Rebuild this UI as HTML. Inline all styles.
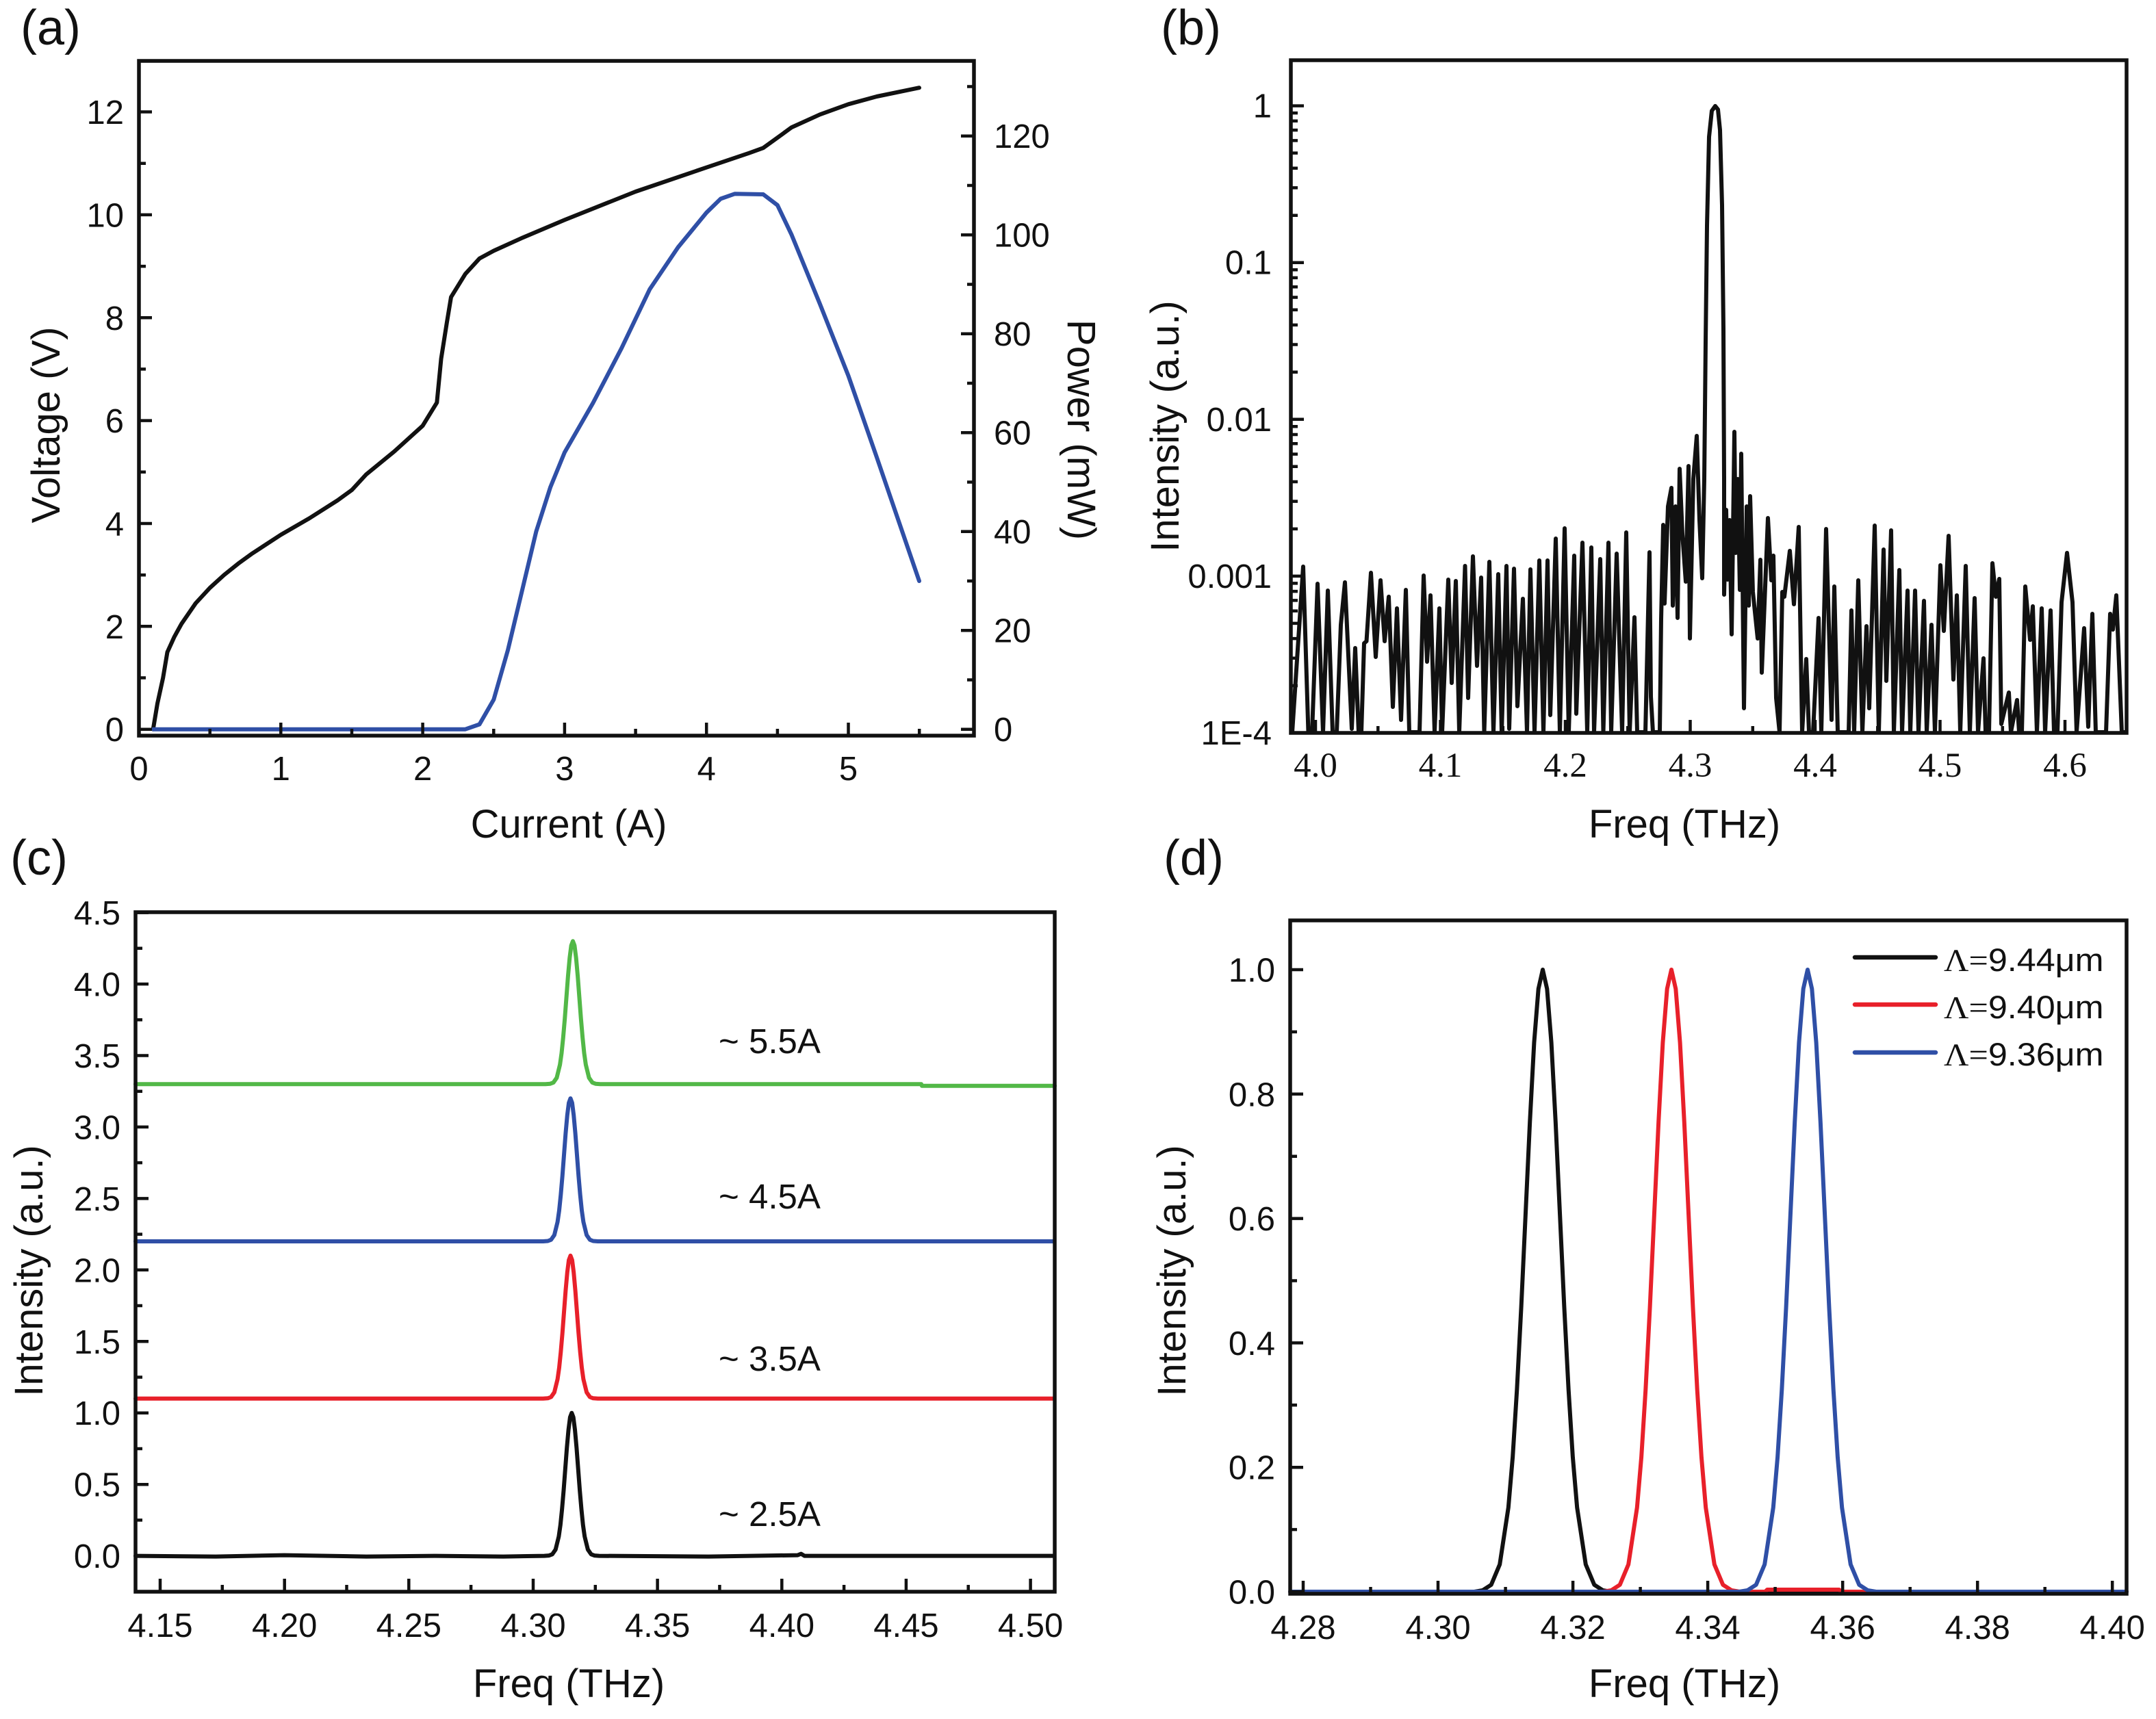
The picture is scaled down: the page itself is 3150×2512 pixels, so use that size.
<!DOCTYPE html>
<html><head><meta charset="utf-8"><title>Figure</title>
<style>
html,body{margin:0;padding:0;background:#fff;}
svg{display:block;}
text{font-family:"Liberation Sans",Arial,sans-serif;fill:#111;}
.tk{font-size:49px;}
.sf{font-size:51px;}
.sf text{font-family:"Liberation Serif","Times New Roman",serif;}
.ax{font-size:58px;}
.pl{font-size:72px;}
.an{font-size:51px;}
.box{fill:none;stroke:#111;stroke-width:5.5;}
.tick{fill:none;stroke:#111;stroke-width:4.5;}
.cv{fill:none;stroke-width:6;stroke-linejoin:round;stroke-linecap:round;}
</style></head>
<body>
<svg width="3150" height="2512" viewBox="0 0 3150 2512" xmlns="http://www.w3.org/2000/svg">
<defs>
<clipPath id="cb"><rect x="1886" y="88" width="1221" height="983"/></clipPath>
</defs>
<rect width="3150" height="2512" fill="#fff"/>

<!-- ================= (a) ================= -->
<text class="pl" x="30" y="65">(a)</text>
<path class="cv" stroke="#111" d="M223.7,1065.7 L230,1028 L238.2,990.5 L244.5,953 L254.8,930.4 L265.2,911.6 L285.9,881.5 L306.7,859 L327.4,840.2 L348.1,823.6 L368.8,808.6 L410.3,781.5 L451.8,757.5 L493.2,731.2 L514,716.1 L534.7,693.6 L576.1,659.7 L617.6,622.1 L638.3,588.3 L644.5,524.4 L652.8,471.8 L659,434.2 L679.8,400.4 L700.5,377.8 L721.3,366.5 L762.7,347.7 L824.9,321.4 L928.6,280 L1032.2,244.7 L1094.4,223.7 L1115.1,216.2 L1135.9,201.2 L1156.6,186.1 L1198,167.3 L1239.5,152.3 L1281,141 L1343,128.2"/>
<path class="cv" stroke="#2f4fa6" d="M223.7,1065.7 L679.8,1065.7 L700.5,1058.5 L721.3,1022.4 L742,950.1 L762.7,863.4 L783.4,776.7 L804.2,711.7 L824.9,661.1 L866.4,588.9 L907.8,509.4 L949.3,422.7 L990.7,361.3 L1032.2,310.7 L1052.9,290.5 L1073.7,283.2 L1115.1,284 L1135.9,299.8 L1156.6,343.2 L1198,444.4 L1239.5,549.1 L1281,668.3 L1322.4,789 L1343,849"/>
<rect class="box" x="203" y="89" width="1220" height="986"/>
<path class="tick" d="M203,1065.7h19M203,915.3h19M203,765h19M203,614.6h19M203,464.3h19M203,313.9h19M203,163.5h19
M203,990.5h10M203,840.2h10M203,689.8h10M203,539.4h10M203,389.1h10M203,238.7h10
M1423,1065.7h-19M1423,921.2h-19M1423,776.7h-19M1423,632.2h-19M1423,487.7h-19M1423,343.2h-19M1423,198.7h-19
M1423,993.5h-10M1423,849h-10M1423,704.5h-10M1423,560h-10M1423,415.5h-10M1423,271h-10M1423,126.5h-10
M203,1075v-19M410.3,1075v-19M617.6,1075v-19M824.9,1075v-19M1032.2,1075v-19M1239.5,1075v-19
M306.7,1075v-10M514,1075v-10M721.3,1075v-10M928.6,1075v-10M1135.9,1075v-10M1343.2,1075v-10"/>
<g class="tk" text-anchor="end">
<text x="181" y="1083">0</text><text x="181" y="933">2</text><text x="181" y="782.5">4</text><text x="181" y="632">6</text><text x="181" y="482">8</text><text x="181" y="331.5">10</text><text x="181" y="181">12</text>
</g>
<g class="tk" text-anchor="start">
<text x="1452" y="1083">0</text><text x="1452" y="938.7">20</text><text x="1452" y="794">40</text><text x="1452" y="649.7">60</text><text x="1452" y="505">80</text><text x="1452" y="360.7">100</text><text x="1452" y="216">120</text>
</g>
<g class="tk" text-anchor="middle">
<text x="203" y="1140">0</text><text x="410.3" y="1140">1</text><text x="617.6" y="1140">2</text><text x="824.9" y="1140">3</text><text x="1032.2" y="1140">4</text><text x="1239.5" y="1140">5</text>
</g>
<text class="ax" x="831" y="1224" text-anchor="middle">Current (A)</text>
<text class="ax" transform="translate(87,621) rotate(-90)" text-anchor="middle">Voltage (V)</text>
<text class="ax" transform="translate(1560,628) rotate(90)" text-anchor="middle">Power (mW)</text>

<!-- ================= (b) ================= -->
<text class="pl" x="1696" y="65">(b)</text>
<g clip-path="url(#cb)">
<path class="cv" stroke="#111" stroke-width="5" d="M1886,1070 L1888,1070 L1904,828 L1911.5,1070 L1917,1070 L1925,853 L1933,1070 L1940,863 L1947,1070 L1953,1070 L1959,913 L1965,851 L1975,1065 L1980,947 L1985,1070 L1989,1070 L1993,940 L1996.5,937 L2003,837 L2010,960 L2017,848 L2023,937 L2029,872 L2035,1033 L2041,889 L2047,1052 L2054,862 L2059,1070 L2074,1070 L2080,841 L2085,967 L2090,870 L2096,1070 L2103,889 L2107,1070 L2116,847 L2121,998 L2127,849 L2132,1070 L2140.5,827 L2145,1020 L2152,813 L2158,973 L2164,844 L2168.5,1070 L2176,821 L2182,1070 L2189,839 L2194,1070 L2201,827 L2205,1065 L2212,831 L2217,1032 L2225,875 L2231,1070 L2236,832 L2242,1070 L2249,819 L2255,1070 L2261,819 L2265,1045 L2273,787 L2279,1070 L2286,772 L2292,1070 L2300,812 L2303,1043 L2312,793 L2319,1070 L2325,800 L2329,1070 L2338,817 L2342.5,1070 L2350,793 L2354,1070 L2362,809 L2370,1070 L2376,778 L2381,1070 L2388,902 L2392,1070 L2404,1070 L2410,807 L2412,1018 L2415,1070 L2425,1070 L2427,905 L2430,767 L2432,882 L2437,740 L2442,713 L2444,885 L2448,740 L2451,903 L2454,685 L2458,780 L2463,850 L2467,681 L2469,933 L2474,700 L2479,637 L2483,760 L2487,845 L2490,700 L2492,500 L2494,330 L2497,200 L2501,162 L2506,155 L2510,160 L2513,190 L2516,300 L2518,480 L2519,700 L2519,869 L2522,745 L2524,847 L2527,760 L2530,927 L2534,631 L2536,808 L2539,700 L2542,862 L2544,663 L2548,1035 L2552,740 L2555,885 L2557,725 L2561,865 L2568,933 L2572,818 L2574,983 L2583,757 L2588,848 L2591,812 L2595,1020 L2600,1070 L2604,865 L2607,872 L2615,805 L2621,883 L2628,770 L2633,1070 L2639,963 L2643,1070 L2649,1070 L2657,903 L2661,1070 L2668,773 L2676,1052 L2680,857 L2685,1070 L2701,1070 L2705,892 L2709,1070 L2715,848 L2721,1070 L2727,915 L2731,1035 L2739,768 L2745,1070 L2752,803 L2756,995 L2763,775 L2767,1070 L2775,833 L2779,1070 L2787,863 L2791,1070 L2798,863 L2803,1070 L2811,878 L2815,1070 L2822,913 L2827,1070 L2835,826 L2840,922 L2847,783 L2854,993 L2859,870 L2864,1070 L2872,827 L2878,1070 L2885,874 L2890,1070 L2898,962 L2901,1070 L2906,1070 L2911,823 L2916,872 L2921,846 L2924,1058 L2935,1012 L2938,1070 L2947,1023 L2950,1070 L2954,1070 L2959,857 L2966,935 L2970,886 L2976,1070 L2983,889 L2988,1070 L2996,892 L3001,1070 L3006,1070 L3012,880 L3020,808 L3028,880 L3034,1070 L3045,918 L3051,1062 L3057,897 L3062,1070 L3077,1070 L3083,897 L3087,920 L3092,870 L3100,1070 L3107,1070"/>
</g>
<rect class="box" x="1886" y="88" width="1221" height="983"/>
<path class="tick" d="M1886,841.9h19M1886,612.8h19M1886,383.7h19M1886,154.6h19
M1886,1002h10M1886,961.7h10M1886,933.1h10M1886,910.9h10M1886,892.7h10M1886,877.4h10M1886,864.1h10M1886,852.4h10
M1886,772.9h10M1886,732.6h10M1886,704h10M1886,681.8h10M1886,663.6h10M1886,648.3h10M1886,635h10M1886,623.3h10
M1886,543.8h10M1886,503.5h10M1886,474.9h10M1886,452.7h10M1886,434.5h10M1886,419.2h10M1886,405.9h10M1886,394.2h10
M1886,314.7h10M1886,274.4h10M1886,245.8h10M1886,223.6h10M1886,205.4h10M1886,190.1h10M1886,176.8h10M1886,165.1h10
M1922,1071v-19M2104.5,1071v-19M2287,1071v-19M2469.5,1071v-19M2652,1071v-19M2834.5,1071v-19M3017,1071v-19
M2013.3,1071v-10M2195.8,1071v-10M2378.3,1071v-10M2560.8,1071v-10M2743.3,1071v-10M2925.8,1071v-10"/>
<g class="tk" text-anchor="end">
<text x="1858" y="171.6">1</text><text x="1858" y="400.7">0.1</text><text x="1858" y="629.8">0.01</text><text x="1858" y="858.9">0.001</text><text x="1858" y="1088">1E-4</text>
</g>
<g class="sf" text-anchor="middle">
<text x="1922" y="1135">4.0</text><text x="2104.5" y="1135">4.1</text><text x="2287" y="1135">4.2</text><text x="2469.5" y="1135">4.3</text><text x="2652" y="1135">4.4</text><text x="2834.5" y="1135">4.5</text><text x="3017" y="1135">4.6</text>
</g>
<text class="ax" x="2461" y="1224" text-anchor="middle">Freq (THz)</text>
<text class="ax" transform="translate(1722,623) rotate(-90)" text-anchor="middle">Intensity (a.u.)</text>

<!-- ================= (c) ================= -->
<text class="pl" x="15" y="1278">(c)</text>
<g transform="translate(835.3,2273.6)"><path class="cv" stroke="#111" d="M-637.3,0 L-520,1 L-420,-1 L-300,1 L-200,0 L-100,1 L-40,0 L-33.1,-0.5 L-28.4,-2.3 L-23.6,-9.2 L-18.9,-28.3 L-16.5,-45.2 L-14.2,-67.8 L-11.8,-95.6 L-9.45,-126.7 L-7.1,-157.7 L-4.7,-184.4 L-2.4,-202.5 L0,-208.9 L2.4,-202.5 L4.7,-184.4 L7.1,-157.7 L9.45,-126.7 L11.8,-95.6 L14.2,-67.8 L16.5,-45.2 L18.9,-28.3 L23.6,-9.2 L28.4,-2.3 L33.1,-0.5 L40,0 L200,1 L330,-1 L335,-3 L340,0 L500,0 L705,0"/></g>
<g transform="translate(833.5,2043.8)"><path class="cv" stroke="#e8202a" d="M-635.5,0 L-40,0 L-33.1,-0.5 L-28.4,-2.3 L-23.6,-9.2 L-18.9,-28.3 L-16.5,-45.2 L-14.2,-67.8 L-11.8,-95.6 L-9.45,-126.7 L-7.1,-157.7 L-4.7,-184.4 L-2.4,-202.5 L0,-208.9 L2.4,-202.5 L4.7,-184.4 L7.1,-157.7 L9.45,-126.7 L11.8,-95.6 L14.2,-67.8 L16.5,-45.2 L18.9,-28.3 L23.6,-9.2 L28.4,-2.3 L33.1,-0.5 L40,0 L707,0"/></g>
<g transform="translate(833.5,1814)"><path class="cv" stroke="#2f4fa6" d="M-635.5,0 L-40,0 L-33.1,-0.5 L-28.4,-2.3 L-23.6,-9.2 L-18.9,-28.3 L-16.5,-45.2 L-14.2,-67.8 L-11.8,-95.6 L-9.45,-126.7 L-7.1,-157.7 L-4.7,-184.4 L-2.4,-202.5 L0,-208.9 L2.4,-202.5 L4.7,-184.4 L7.1,-157.7 L9.45,-126.7 L11.8,-95.6 L14.2,-67.8 L16.5,-45.2 L18.9,-28.3 L23.6,-9.2 L28.4,-2.3 L33.1,-0.5 L40,0 L707,0"/></g>
<g transform="translate(837,1584.2)"><path class="cv" stroke="#52b847" d="M-639,0 L-40,0 L-33.1,-0.5 L-28.4,-2.3 L-23.6,-9.2 L-18.9,-28.3 L-16.5,-45.2 L-14.2,-67.8 L-11.8,-95.6 L-9.45,-126.7 L-7.1,-157.7 L-4.7,-184.4 L-2.4,-202.5 L0,-208.9 L2.4,-202.5 L4.7,-184.4 L7.1,-157.7 L9.45,-126.7 L11.8,-95.6 L14.2,-67.8 L16.5,-45.2 L18.9,-28.3 L23.6,-9.2 L28.4,-2.3 L33.1,-0.5 L40,0 L509,0 L510,2.5 L704,2.5"/></g>
<rect class="box" x="198" y="1333" width="1343" height="993"/>
<path class="tick" d="M198,2273.6h19M198,2169.2h19M198,2064.7h19M198,1960.3h19M198,1855.8h19M198,1751.4h19M198,1646.9h19M198,1542.5h19M198,1438h19M198,1333.6h19
M198,2221.4h10M198,2117h10M198,2012.5h10M198,1908h10M198,1803.6h10M198,1699.1h10M198,1594.7h10M198,1490.2h10M198,1385.8h10
M234,2326v-19M415.7,2326v-19M597.3,2326v-19M779,2326v-19M960.6,2326v-19M1142.3,2326v-19M1323.9,2326v-19M1505.6,2326v-19
M324.8,2326v-10M506.5,2326v-10M688.1,2326v-10M869.8,2326v-10M1051.4,2326v-10M1233.1,2326v-10M1414.7,2326v-10"/>
<g class="tk" text-anchor="end">
<text x="176" y="2291.1">0.0</text><text x="176" y="2186.7">0.5</text><text x="176" y="2082.2">1.0</text><text x="176" y="1977.8">1.5</text><text x="176" y="1873.3">2.0</text><text x="176" y="1768.9">2.5</text><text x="176" y="1664.4">3.0</text><text x="176" y="1560">3.5</text><text x="176" y="1455.5">4.0</text><text x="176" y="1351.1">4.5</text>
</g>
<g class="tk" text-anchor="middle">
<text x="234" y="2392">4.15</text><text x="415.7" y="2392">4.20</text><text x="597.3" y="2392">4.25</text><text x="779" y="2392">4.30</text><text x="960.6" y="2392">4.35</text><text x="1142.3" y="2392">4.40</text><text x="1323.9" y="2392">4.45</text><text x="1505.6" y="2392">4.50</text>
</g>
<g class="an">
<text x="1050" y="1539">~ 5.5A</text><text x="1050" y="1766">~ 4.5A</text><text x="1050" y="2003">~ 3.5A</text><text x="1050" y="2230">~ 2.5A</text>
</g>
<text class="ax" x="831" y="2480" text-anchor="middle">Freq (THz)</text>
<text class="ax" transform="translate(62,1857) rotate(-90)" text-anchor="middle">Intensity (a.u.)</text>

<!-- ================= (d) ================= -->
<text class="pl" x="1700" y="1278">(d)</text>
<g transform="translate(2254,2326)"><path class="cv" stroke="#111" d="M-369,0 L-100,0 L-87.9,-2 L-75.3,-10.1 L-62.8,-39.9 L-50.2,-123 L-43.9,-196.6 L-37.7,-295.2 L-31.4,-416.1 L-25.1,-551.3 L-18.8,-686.1 L-12.6,-802.2 L-6.3,-881 L0,-909 L6.3,-881 L12.6,-802.2 L18.8,-686.1 L25.1,-551.3 L31.4,-416.1 L37.7,-295.2 L43.9,-196.6 L50.2,-123 L62.8,-39.9 L75.3,-10.1 L87.9,-2 L100,0 L853,0"/></g>
<g transform="translate(2442,2326)"><path class="cv" stroke="#e8202a" d="M-557,0 L-100,0 L-87.9,-2 L-75.3,-10.1 L-62.8,-39.9 L-50.2,-123 L-43.9,-196.6 L-37.7,-295.2 L-31.4,-416.1 L-25.1,-551.3 L-18.8,-686.1 L-12.6,-802.2 L-6.3,-881 L0,-909 L6.3,-881 L12.6,-802.2 L18.8,-686.1 L25.1,-551.3 L31.4,-416.1 L37.7,-295.2 L43.9,-196.6 L50.2,-123 L62.8,-39.9 L75.3,-10.1 L87.9,-2 L100,0 L137,0 L140,-3 L245,-3 L248,0 L665,0"/></g>
<g transform="translate(2641,2326)"><path class="cv" stroke="#2f4fa6" d="M-756,0 L-100,0 L-87.9,-2 L-75.3,-10.1 L-62.8,-39.9 L-50.2,-123 L-43.9,-196.6 L-37.7,-295.2 L-31.4,-416.1 L-25.1,-551.3 L-18.8,-686.1 L-12.6,-802.2 L-6.3,-881 L0,-909 L6.3,-881 L12.6,-802.2 L18.8,-686.1 L25.1,-551.3 L31.4,-416.1 L37.7,-295.2 L43.9,-196.6 L50.2,-123 L62.8,-39.9 L75.3,-10.1 L87.9,-2 L100,0 L466,0"/></g>
<rect class="box" x="1885" y="1345" width="1222" height="984"/>
<path class="tick" d="M1885,2326h19M1885,2144.2h19M1885,1962.4h19M1885,1780.6h19M1885,1598.8h19M1885,1417h19
M1885,2235.1h10M1885,2053.3h10M1885,1871.5h10M1885,1689.7h10M1885,1507.9h10
M1904,2329v-19M2101,2329v-19M2298.1,2329v-19M2495.1,2329v-19M2692.2,2329v-19M2889.2,2329v-19M3086.2,2329v-19
M2002.5,2329v-10M2199.6,2329v-10M2396.6,2329v-10M2593.6,2329v-10M2790.7,2329v-10M2987.7,2329v-10"/>
<g class="tk" text-anchor="end">
<text x="1863" y="2343.5">0.0</text><text x="1863" y="2161.7">0.2</text><text x="1863" y="1979.9">0.4</text><text x="1863" y="1798.1">0.6</text><text x="1863" y="1616.3">0.8</text><text x="1863" y="1434.5">1.0</text>
</g>
<g class="tk" text-anchor="middle">
<text x="1904" y="2395">4.28</text><text x="2101" y="2395">4.30</text><text x="2298.1" y="2395">4.32</text><text x="2495.1" y="2395">4.34</text><text x="2692.2" y="2395">4.36</text><text x="2889.2" y="2395">4.38</text><text x="3086.2" y="2395">4.40</text>
</g>
<!-- legend -->
<path d="M2710,1399H2828" stroke="#111" stroke-width="6.5" stroke-linecap="round"/>
<path d="M2710,1468H2828" stroke="#e8202a" stroke-width="6.5" stroke-linecap="round"/>
<path d="M2710,1538H2828" stroke="#2f4fa6" stroke-width="6.5" stroke-linecap="round"/>
<g transform="translate(2840,1419) scale(1.07,1)"><text font-size="47"><tspan font-family="'Liberation Serif',serif">Λ=</tspan>9.44μm</text></g>
<g transform="translate(2840,1488) scale(1.07,1)"><text font-size="47"><tspan font-family="'Liberation Serif',serif">Λ=</tspan>9.40μm</text></g>
<g transform="translate(2840,1557) scale(1.07,1)"><text font-size="47"><tspan font-family="'Liberation Serif',serif">Λ=</tspan>9.36μm</text></g>
<text class="ax" x="2461" y="2480" text-anchor="middle">Freq (THz)</text>
<text class="ax" transform="translate(1732,1857) rotate(-90)" text-anchor="middle">Intensity (a.u.)</text>
</svg>
</body></html>
